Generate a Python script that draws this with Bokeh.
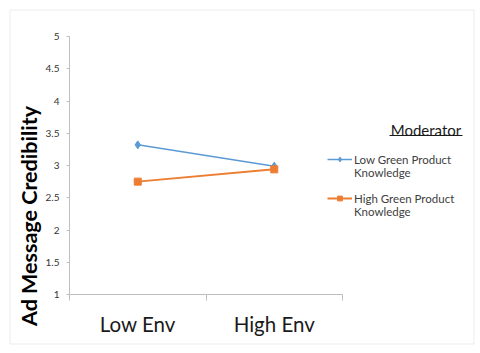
import math
from bokeh.plotting import figure
from bokeh.models import (Range1d, FixedTicker, Legend, LegendItem, Label,
                          BoxAnnotation, NumeralTickFormatter, CustomJSTickFormatter)
from bokeh.embed import file_html
from bokeh.resources import INLINE

categories = ["Low Env", "High Env"]
low_knowledge = [3.32, 2.99]
high_knowledge = [2.75, 2.94]
y_ticks = [1, 1.5, 2, 2.5, 3, 3.5, 4, 4.5, 5]
series_names = ["Low Green Product\nKnowledge", "High Green Product\nKnowledge"]
legend_title = "Moderator"
y_title = "Ad Message Credibility"
y_min, y_max = 1, 5

FONT = "Lato"
BLUE = "#5B9BD5"
ORANGE = "#ED7D31"
AXIS = "#BFBFBF"

# canvas layout (pixels)
W, H = 476, 350
PX_L, PX_R, PX_T, PX_B = 69, 342, 36, 294

n = len(categories)
x = [i + 0.5 for i in range(n)]
bounds = list(range(n + 1))

xs = (PX_R - PX_L) / n
ys = (PX_B - PX_T) / (y_max - y_min)
x_range = Range1d(-PX_L / xs, n + (W - PX_R) / xs)
y_range = Range1d(y_min - (H - PX_B) / ys, y_max + PX_T / ys)

p = figure(width=W, height=H, output_backend="svg", toolbar_location=None,
           x_range=x_range, y_range=y_range, min_border=0)
p.background_fill_color = "white"
p.border_fill_color = "white"
p.outline_line_color = None
p.xgrid.visible = False
p.ygrid.visible = False

# x axis
xa = p.xaxis[0]
xa.fixed_location = y_min
xa.bounds = (0, n)
xa.ticker = FixedTicker(ticks=x, minor_ticks=bounds)
xa.formatter = CustomJSTickFormatter(args=dict(cats=categories),
                                     code="return cats[Math.floor(tick)]")
xa.major_tick_line_color = None
xa.major_tick_out = 0
xa.major_tick_in = 0
xa.minor_tick_line_color = AXIS
xa.minor_tick_out = 6
xa.minor_tick_in = 0
xa.axis_line_color = AXIS
xa.major_label_text_font = FONT
xa.major_label_text_font_size = "20.5px"
xa.major_label_text_color = "#1a1a1a"
xa.major_label_standoff = 11

# y axis
ya = p.yaxis[0]
ya.fixed_location = 0
ya.bounds = (y_min, y_max)
ya.ticker = FixedTicker(ticks=y_ticks)
ya.formatter = NumeralTickFormatter(format="0.[0]")
ya.major_tick_line_color = AXIS
ya.major_tick_out = 3
ya.major_tick_in = 0
ya.minor_tick_line_color = None
ya.axis_line_color = AXIS
ya.major_label_text_font = FONT
ya.major_label_text_font_size = "10px"
ya.major_label_text_color = "#333333"
ya.major_label_standoff = 7

l1 = p.line(x, low_knowledge, color=BLUE, line_width=1.5)
s1 = p.scatter(x, low_knowledge, marker="diamond", size=8, color=BLUE)
l2 = p.line(x, high_knowledge, color=ORANGE, line_width=2)
s2 = p.scatter(x, high_knowledge, marker="square", size=7, color=ORANGE)

# one legend box per series; a leading blank line keeps the marker level
# with the first text line, as in the reference
legend_rows = [(series_names[0], [l1, s1], 178.5), (series_names[1], [l2, s2], 217.5)]
for name, rends, bottom_px in legend_rows:
    lg = Legend(items=[LegendItem(label="\n" + name, renderers=rends)],
                location=(327, H - bottom_px), padding=0, margin=0, spacing=0,
                glyph_width=25, glyph_height=12, label_standoff=2,
                label_text_font=FONT, label_text_font_size="11.5px",
                label_text_line_height=1.55,
                label_text_color="#404040", border_line_color=None,
                background_fill_alpha=0)
    p.add_layout(lg, "center")

p.add_layout(Label(x=425.5, y=H - 129, x_units="screen", y_units="screen",
                   text=legend_title, text_font=FONT, text_font_size="15px",
                   text_color="#1a1a1a", text_align="center", text_baseline="middle"))
p.add_layout(BoxAnnotation(left=389, right=462, bottom=H - 135.5, top=H - 134.5,
                           left_units="screen", right_units="screen",
                           bottom_units="screen", top_units="screen",
                           fill_color="#1a1a1a", fill_alpha=1, line_color=None))

p.add_layout(Label(x=28, y=H - 215.5, x_units="screen", y_units="screen",
                   text=y_title, text_font=FONT, text_font_size="21.5px",
                   text_font_style="bold", text_color="black", angle=math.pi / 2,
                   text_align="center", text_baseline="middle"))

# outer chart border
p.add_layout(BoxAnnotation(left=9.5, right=473.5, bottom=H - 343.5, top=H - 9.5,
                           left_units="screen", right_units="screen",
                           bottom_units="screen", top_units="screen",
                           fill_alpha=0, line_color="#c4c4c4", line_width=1))

open("out.html", "w").write(file_html(p, INLINE))
